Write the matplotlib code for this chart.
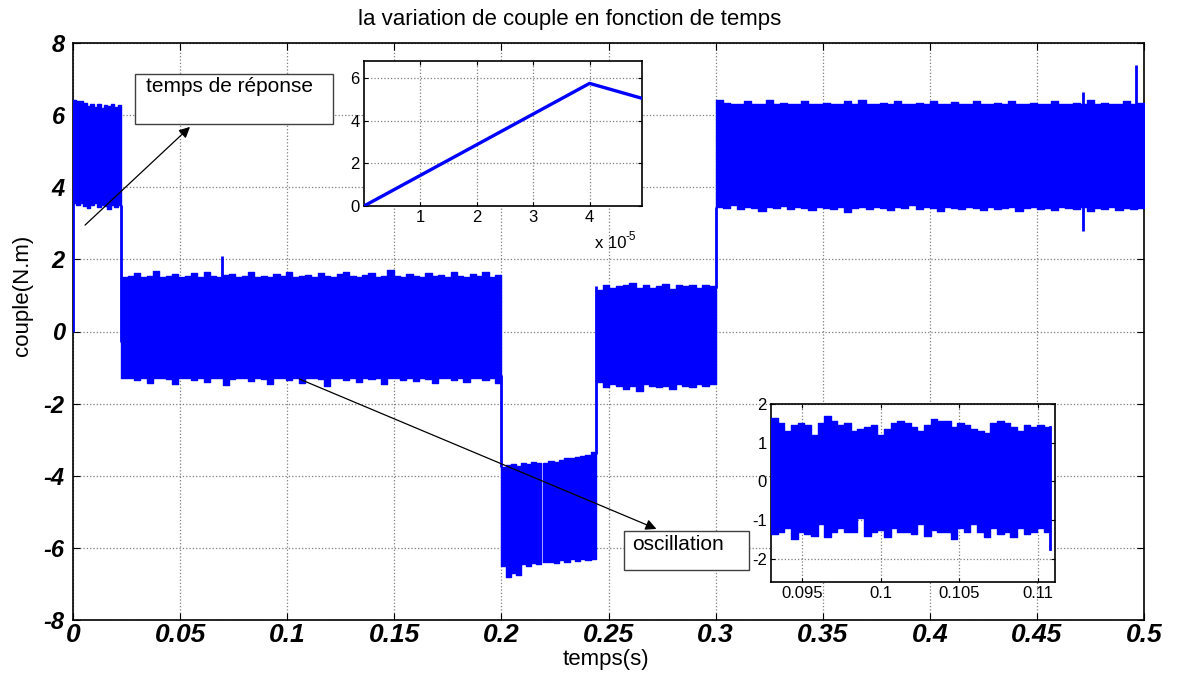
import numpy as np
import matplotlib
matplotlib.use("Agg")
import matplotlib.pyplot as plt
from matplotlib.patches import Rectangle, FancyArrowPatch

plt.rcParams['font.family'] = ['Liberation Sans', 'DejaVu Sans']
plt.rcParams['axes.unicode_minus'] = False

W, H = 1179, 677
BLUE = '#0000ff'

# ---------------- data ----------------
title = "la variation de couple en fonction de temps"
xlabel = "temps(s)"
ylabel = "couple(N.m)"
xticks_main = [0, 0.05, 0.1, 0.15, 0.2, 0.25, 0.3, 0.35, 0.4, 0.45, 0.5]
xticklabels_main = ['0', '0.05', '0.1', '0.15', '0.2', '0.25', '0.3', '0.35', '0.4', '0.45', '0.5']
yticks_main = [-8, -6, -4, -2, 0, 2, 4, 6, 8]

# segment limits (s)
seg1_range = (0.0, 0.0225)
seg2_range = (0.0225, 0.2)
seg3a_range = (0.2, 0.2187)
seg3b_range = (0.2195, 0.2442)
seg4_range = (0.2442, 0.3)
seg5_range = (0.3, 0.5)

# envelope readings (upper / lower edge of the oscillation band)
seg1_up = [6.42, 6.4, 6.38, 6.35, 6.25, 6.3, 6.22, 6.3, 6.2, 6.28, 6.25, 6.3,
           6.22, 6.28]
seg1_lo = [3.55, 3.5, 3.55, 3.48, 3.42, 3.5, 3.55, 3.45, 3.5, 3.48, 3.4, 3.5,
           3.45, 3.5]
seg2_up = [1.5, 1.55, 1.62, 1.52, 1.55, 1.68, 1.5, 1.55, 1.6, 1.52, 1.55, 1.62,
           1.5, 1.66, 1.55, 1.52, 1.58, 1.6, 1.52, 1.55, 1.66, 1.52, 1.55, 1.5,
           1.6, 1.55, 1.64, 1.52, 1.55, 1.58, 1.5, 1.62, 1.55, 1.52, 1.6, 1.66,
           1.55, 1.5, 1.58, 1.62, 1.52, 1.55, 1.7, 1.55, 1.5, 1.6, 1.55, 1.52,
           1.62, 1.55, 1.58, 1.5, 1.64, 1.55, 1.52, 1.6, 1.55, 1.66, 1.52, 1.58]
seg2_lo = [-1.3, -1.28, -1.35, -1.3, -1.42, -1.3, -1.28, -1.32, -1.45, -1.3,
           -1.28, -1.35, -1.3, -1.4, -1.28, -1.3, -1.48, -1.32, -1.3, -1.28,
           -1.38, -1.3, -1.32, -1.45, -1.28, -1.3, -1.35, -1.3, -1.42, -1.28,
           -1.3, -1.32, -1.5, -1.3, -1.28, -1.35, -1.3, -1.4, -1.28, -1.32,
           -1.3, -1.45, -1.3, -1.28, -1.35, -1.3, -1.38, -1.28, -1.32, -1.44,
           -1.3, -1.28, -1.35, -1.3, -1.4, -1.3, -1.28, -1.35, -1.3, -1.42]
seg3a_up = [-3.75, -3.7, -3.68, -3.72, -3.65, -3.68, -3.62, -3.66]
seg3a_lo = [-6.5, -6.8, -6.7, -6.75, -6.45, -6.5, -6.42, -6.45]
seg3b_up = [-3.65, -3.6, -3.62, -3.55, -3.52, -3.5, -3.48, -3.45, -3.42, -3.35]
seg3b_lo = [-6.4, -6.38, -6.42, -6.35, -6.38, -6.32, -6.36, -6.3, -6.35, -6.3]
seg4_up = [1.15, 1.3, 1.2, 1.25, 1.28, 1.35, 1.2, 1.3, 1.22, 1.25, 1.32, 1.18,
           1.3, 1.25, 1.28, 1.22, 1.3, 1.25]
seg4_lo = [-1.4, -1.55, -1.45, -1.5, -1.6, -1.5, -1.65, -1.45, -1.5, -1.55,
           -1.5, -1.6, -1.45, -1.5, -1.55, -1.45, -1.5, -1.45]
seg5_up = [6.42, 6.35, 6.3, 6.32, 6.38, 6.3, 6.32, 6.42, 6.3, 6.35, 6.3, 6.32,
           6.4, 6.3, 6.32, 6.35, 6.3, 6.32, 6.38, 6.3, 6.42, 6.32, 6.3, 6.35,
           6.3, 6.38, 6.32, 6.3, 6.35, 6.3, 6.4, 6.32, 6.3, 6.36, 6.3, 6.32,
           6.38, 6.3, 6.32, 6.35, 6.3, 6.4, 6.32, 6.3, 6.35, 6.3, 6.32, 6.38,
           6.3, 6.32, 6.35, 6.3, 6.42, 6.3, 6.35, 6.32, 6.3, 6.38, 6.32, 6.35]
seg5_lo = [3.45, 3.42, 3.5, 3.4, 3.45, 3.42, 3.35, 3.45, 3.42, 3.48, 3.4, 3.45,
           3.42, 3.38, 3.45, 3.42, 3.4, 3.45, 3.3, 3.42, 3.45, 3.4, 3.45, 3.42,
           3.38, 3.45, 3.42, 3.5, 3.4, 3.45, 3.42, 3.35, 3.45, 3.42, 3.4, 3.45,
           3.42, 3.38, 3.45, 3.4, 3.42, 3.45, 3.35, 3.42, 3.45, 3.4, 3.42, 3.38,
           3.45, 3.42, 3.4, 3.45, 3.35, 3.42, 3.4, 3.45, 3.38, 3.42, 3.4, 3.42]

# vertical transitions / spikes: time, low, high
vert_t = [0.0, 0.0225, 0.2, 0.2442, 0.3, 0.0695, 0.4715, 0.4963]
vert_lo = [0.0, -0.3, -3.75, -3.4, 1.2, 1.5, 2.8, 6.2]
vert_hi = [6.4, 3.5, -1.2, 1.25, 3.45, 2.1, 6.65, 7.4]

# inset 1 : start of the response
ins1_t = [0.0, 4.0e-5, 4.93e-5]
ins1_y = [0.0, 5.75, 5.05]

# inset 2 : zoom on the oscillation
ins2_range = (0.093, 0.1108)
ins2_up = [1.65, 1.5, 1.3, 1.45, 1.5, 1.45, 1.2, 1.5, 1.7, 1.55, 1.45, 1.5,
           1.3, 1.35, 1.4, 1.45, 1.2, 1.35, 1.5, 1.55, 1.5, 1.4, 1.3, 1.45,
           1.6, 1.55, 1.55, 1.4, 1.5, 1.45, 1.35, 1.3, 1.25, 1.5, 1.55, 1.5,
           1.4, 1.3, 1.45, 1.4, 1.45, 1.4]
ins2_lo = [-1.35, -1.3, -1.2, -1.5, -1.3, -1.35, -1.4, -1.1, -1.45, -1.3,
           -1.2, -1.3, -1.3, -0.95, -1.4, -1.3, -1.25, -1.45, -1.2, -1.3,
           -1.3, -1.35, -1.1, -1.4, -1.25, -1.3, -1.3, -1.5, -1.2, -1.3,
           -1.1, -1.3, -1.45, -1.2, -1.35, -1.3, -1.45, -1.2, -1.35, -1.3,
           -1.2, -1.3]
ins2_end_t = [0.1108, 0.1108]
ins2_end_y = [1.4, -1.75]

# ---------------- figure ----------------
fig = plt.figure(figsize=(W / 100, H / 100), dpi=100)


def fx(x):
    return x / W


def fy(y):
    return 1 - y / H


def style_axes(ax, size, tlen=4):
    ax.tick_params(direction='in', top=True, right=True, length=tlen,
                   width=0.8, labelsize=size, pad=3)
    ax.grid(True, linestyle=':', color='#7f7f7f', linewidth=0.9)
    for s in ax.spines.values():
        s.set_linewidth(1.2)
        s.set_color('black')


def band(axis, rng, up, lo):
    t = np.linspace(rng[0], rng[1], len(up) + 1)
    axis.fill_between(t, np.append(lo, lo[-1]), np.append(up, up[-1]),
                      step='post', color=BLUE, edgecolor=BLUE, linewidth=1.0,
                      zorder=3)


ax = fig.add_axes([fx(73), fy(620), fx(1144) - fx(73), fy(43) - fy(620)])
ax.set_xlim(0, 0.5)
ax.set_ylim(-8, 8)
style_axes(ax, 16, tlen=5)
ax.set_xticks(xticks_main)
ax.set_xticklabels(xticklabels_main, fontsize=19, fontweight='bold', fontstyle='italic')
ax.set_yticks(yticks_main)
ax.set_yticklabels([str(v) for v in yticks_main], fontsize=17,
                   fontweight='bold', fontstyle='italic')
ax.tick_params(axis='x', pad=2)
ax.tick_params(axis='y', pad=6)

segments = [(seg1_range, seg1_up, seg1_lo), (seg2_range, seg2_up, seg2_lo),
            (seg3a_range, seg3a_up, seg3a_lo), (seg3b_range, seg3b_up, seg3b_lo),
            (seg4_range, seg4_up, seg4_lo), (seg5_range, seg5_up, seg5_lo)]
for rng, up, lo in segments:
    band(ax, rng, up, lo)
ax.vlines(vert_t, vert_lo, vert_hi, color=BLUE, linewidth=2, zorder=3)

fig.text(fx(606), fy(659), xlabel, fontsize=16, ha='center', va='center')
fig.text(fx(22), fy(295), ylabel, fontsize=16, ha='center', va='center',
         rotation=90)
fig.text(fx(570), fy(20), title, fontsize=16, ha='center', va='center')

# ---------------- inset 1 ----------------
a1 = fig.add_axes([fx(364), fy(206), fx(642) - fx(364), fy(61) - fy(206)])
a1.set_xlim(0, 4.93e-5)
a1.set_ylim(0, 6.8)
style_axes(a1, 12, tlen=3)
a1.set_xticks([1e-5, 2e-5, 3e-5, 4e-5])
a1.set_xticklabels(['1', '2', '3', '4'])
a1.set_yticks([0, 2, 4, 6])
a1.plot(ins1_t, ins1_y, color=BLUE, linewidth=2.4, zorder=3)
fig.text(fx(595), fy(244), 'x 10', fontsize=12, ha='left', va='center')
fig.text(fx(625), fy(237), '-5', fontsize=8.5, ha='left', va='center')
a1.set_zorder(5)

# ---------------- inset 2 ----------------
a2 = fig.add_axes([fx(771), fy(582), fx(1055) - fx(771), fy(404) - fy(582)])
a2.set_xlim(0.093, 0.1111)
a2.set_ylim(-2.6, 2)
style_axes(a2, 12, tlen=3)
a2.set_xticks([0.095, 0.1, 0.105, 0.11])
a2.set_xticklabels(['0.095', '0.1', '0.105', '0.11'])
a2.set_yticks([-2, -1, 0, 1, 2])
band(a2, ins2_range, ins2_up, ins2_lo)
a2.plot(ins2_end_t, ins2_end_y, color=BLUE, linewidth=2, zorder=3)
a2.set_zorder(5)

# ---------------- annotations ----------------
for (x0, y0, x1, y1) in [(135, 74, 333, 124), (624, 531, 749, 570)]:
    fig.add_artist(Rectangle((fx(x0), fy(y1)), fx(x1) - fx(x0), fy(y0) - fy(y1),
                             transform=fig.transFigure, fill=True, facecolor='white',
                             edgecolor='#404040', linewidth=1.0, zorder=6))
fig.text(fx(146), fy(87), 'temps de réponse', fontsize=15, ha='left', va='center', zorder=7)
fig.text(fx(632), fy(545), 'oscillation', fontsize=15, ha='left', va='center', zorder=7)

for (xa, ya, xb, yb) in [(83, 227, 192, 125), (297, 378, 659, 530)]:
    fig.add_artist(FancyArrowPatch((fx(xa), fy(ya)), (fx(xb), fy(yb)),
                                   transform=fig.transFigure, arrowstyle='-|>',
                                   mutation_scale=16, color='black', linewidth=0.9,
                                   zorder=8))

fig.savefig('out.png', dpi=100)
